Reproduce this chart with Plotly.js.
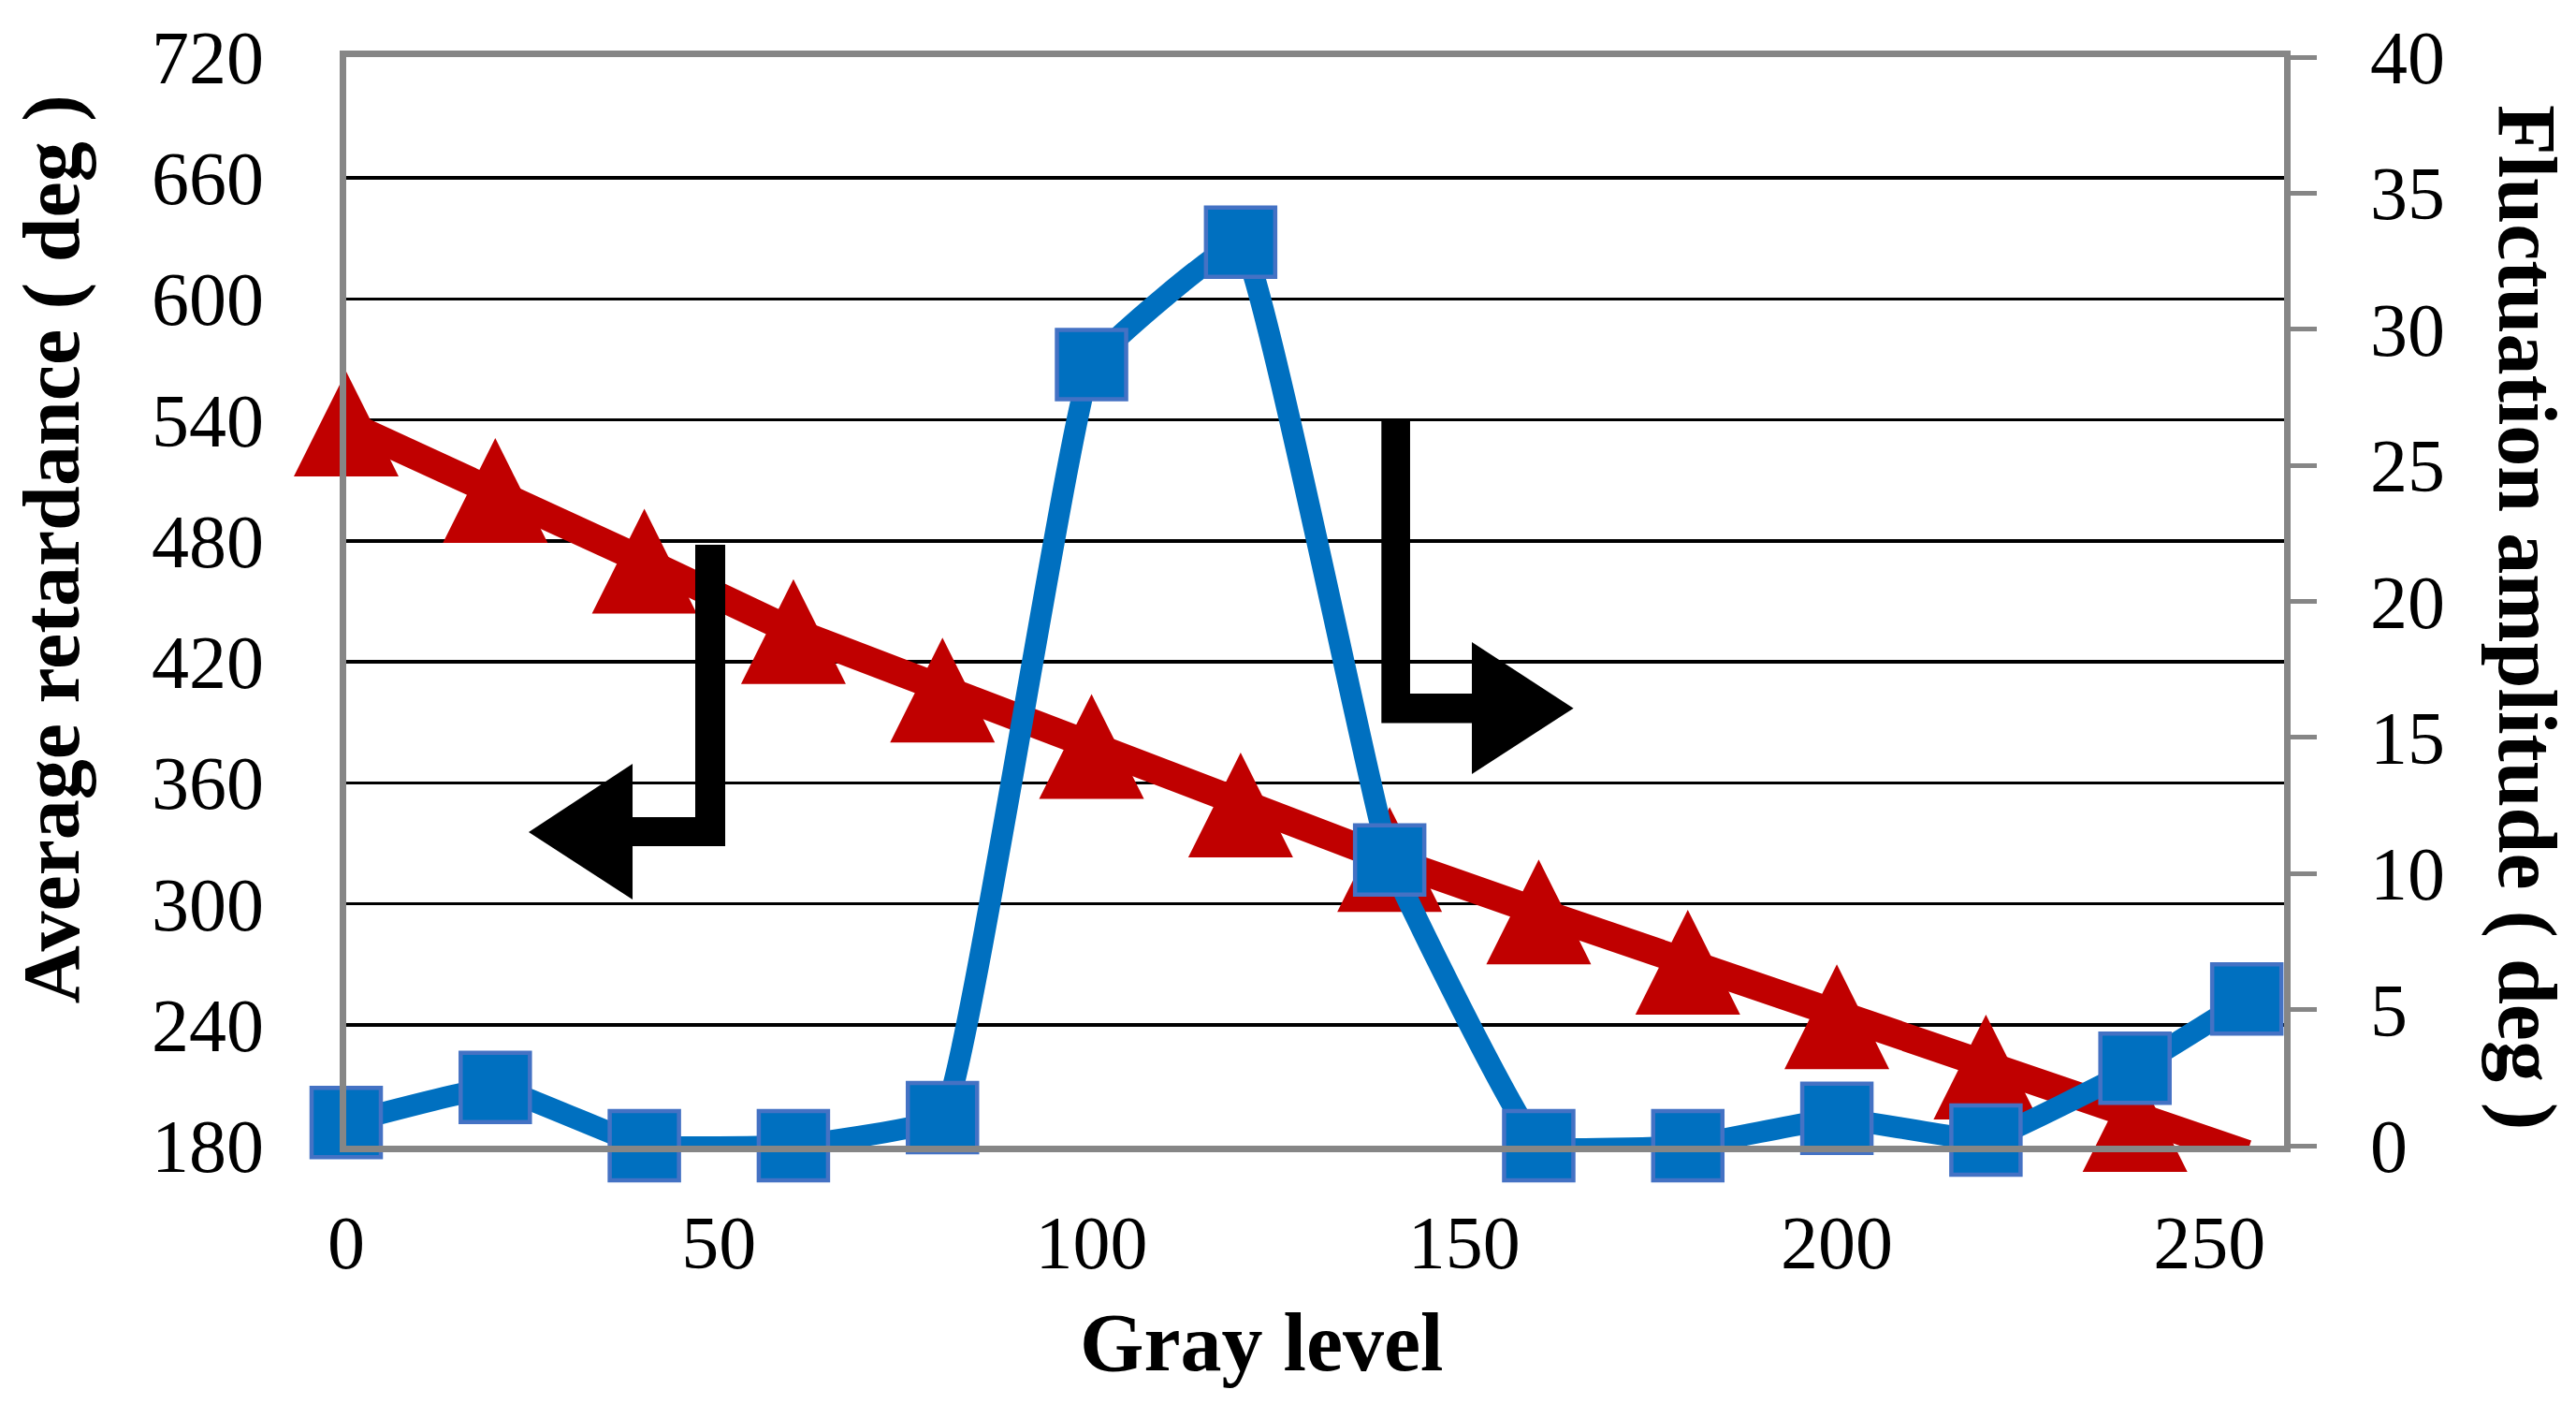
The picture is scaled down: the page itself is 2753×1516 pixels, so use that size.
<!DOCTYPE html>
<html>
<head>
<meta charset="utf-8">
<script src="https://cdn.plot.ly/plotly-3.0.1.min.js"></script>
<style>
  html, body { margin: 0; padding: 0; background: #ffffff; }
  #chart { width: 2753px; height: 1516px; }
</style>
</head>
<body>
<div id="chart"></div>
<script>
// Gray level vs. retardance (left axis) and fluctuation (right axis)
const grayLevels = [0, 20, 40, 60, 80, 100, 120, 140, 160, 180, 200, 220, 240, 255];
const avgRetardance = [538, 505, 470, 435, 406, 378, 349, 322, 296, 271, 244, 219, 193, 176];
const fluctuation = [0.85, 2.14, 0, 0, 1.03, 28.7, 33.2, 10.5, 0, 0, 1.01, 0.21, 2.85, 5.39];

const leftTicks = [180, 240, 300, 360, 420, 480, 540, 600, 660, 720];
const rightTicks = [0, 5, 10, 15, 20, 25, 30, 35, 40];
const xTicks = [0, 50, 100, 150, 200, 250];

const FONT = '"Liberation Serif", "Times New Roman", serif';
const GRAY = '#868686';

// bent arrows pointing to each series' axis (gray level, left-axis deg)
const leftArrow = 'M 50.85,478.1 L 50.85,328.6 L 38.42,328.6 L 38.42,302.1 L 24.48,335.5 ' +
  'L 38.42,369.4 L 38.42,343.0 L 46.83,343.0 L 46.83,478.1 Z';
const rightArrow = 'M 138.89,540 L 142.74,540 L 142.74,404.3 L 151.03,404.3 L 151.03,429.8 ' +
  'L 164.67,397.0 L 151.03,364.3 L 151.03,389.6 L 138.89,389.6 Z';

const traces = [
  {
    x: grayLevels,
    y: avgRetardance,
    mode: 'lines+markers',
    name: 'Average retardance',
    line: { color: '#C00000', width: 30 },
    marker: { symbol: 'arrow-down', angle: 180, standoff: 56, size: 112, color: '#C00000' },
    cliponaxis: false,
    hoverinfo: 'x+y'
  },
  {
    x: grayLevels,
    y: fluctuation,
    yaxis: 'y2',
    mode: 'lines+markers',
    name: 'Fluctuation amplitude',
    line: { color: '#0070C0', width: 23, shape: 'spline', smoothing: 0.25 },
    marker: { symbol: 'square', size: 74, color: '#0070C0', line: { color: '#4472C4', width: 4.5 } },
    cliponaxis: false,
    hoverinfo: 'x+y'
  }
];

const layout = {
  width: 2753,
  height: 1516,
  margin: { l: 370, r: 312, t: 61, b: 292 },
  paper_bgcolor: '#ffffff',
  plot_bgcolor: '#ffffff',
  showlegend: false,
  font: { family: FONT, color: '#000000', size: 80 },
  xaxis: {
    range: [0, 260],
    tickvals: xTicks,
    ticks: '',
    showgrid: false,
    zeroline: false,
    showline: true,
    mirror: true,
    linecolor: GRAY,
    linewidth: 7,
    tickfont: { family: FONT, size: 80, color: '#000000' },
    ticklabelstandoff: 28
  },
  yaxis: {
    range: [180, 720],
    tickvals: leftTicks,
    ticks: '',
    showgrid: true,
    gridcolor: '#000000',
    gridwidth: 3.5,
    zeroline: false,
    showline: true,
    linecolor: GRAY,
    linewidth: 7,
    tickfont: { family: FONT, size: 80, color: '#000000' },
    ticklabelstandoff: 65
  },
  yaxis2: {
    overlaying: 'y',
    side: 'right',
    range: [0, 40],
    tickvals: rightTicks,
    ticks: 'outside',
    ticklen: 28,
    tickwidth: 5,
    tickcolor: GRAY,
    showgrid: false,
    zeroline: false,
    showline: true,
    linecolor: GRAY,
    linewidth: 7,
    tickfont: { family: FONT, size: 80, color: '#000000' },
    ticklabelstandoff: 41
  },
  shapes: [
    { type: 'path', xref: 'x', yref: 'y', path: leftArrow, fillcolor: '#000000', line: { width: 0 }, layer: 'above' },
    { type: 'path', xref: 'x', yref: 'y', path: rightArrow, fillcolor: '#000000', line: { width: 0 }, layer: 'above' }
  ],
  annotations: [
    {
      text: '<b>Gray level</b>', xref: 'paper', yref: 'paper', x: 0.4727, y: -0.1806,
      xanchor: 'center', yanchor: 'middle', showarrow: false,
      font: { family: FONT, size: 88, color: '#000000' }
    },
    {
      text: '<b>Average retardance ( deg )</b>', xref: 'paper', yref: 'paper', x: -0.152, y: 0.5477,
      xanchor: 'center', yanchor: 'middle', textangle: -90, showarrow: false,
      font: { family: FONT, size: 86, color: '#000000' }
    },
    {
      text: '<b>Fluctuation amplitude ( deg )</b>', xref: 'paper', yref: 'paper', x: 1.125, y: 0.485,
      xanchor: 'center', yanchor: 'middle', textangle: 90, showarrow: false,
      font: { family: FONT, size: 88, color: '#000000' }
    }
  ]
};

Plotly.newPlot('chart', traces, layout, { staticPlot: true, displayModeBar: false });
</script>
</body>
</html>
